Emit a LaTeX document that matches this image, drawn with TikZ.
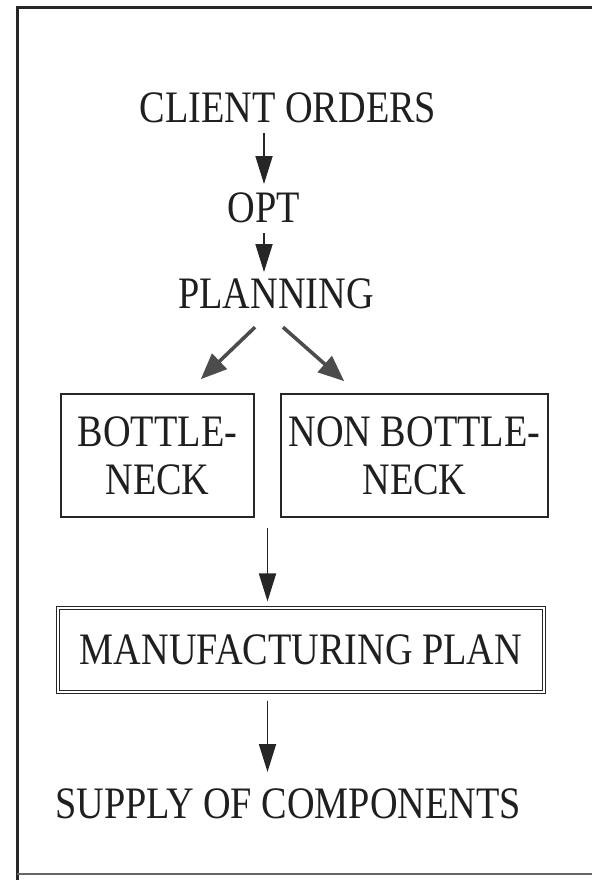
\documentclass[tikz,border=0pt]{standalone}
\usepackage{fontspec}
\setmainfont{Liberation Serif}[FakeStretch=0.85]
\usetikzlibrary{arrows.meta,calc}

\tikzset{
  lbl/.style={inner sep=0pt, text depth=0pt, font=\fontsize{45pt}{48pt}\selectfont, text=black!88},
  boxed/.style={lbl, draw=black!85, line width=1.6pt, align=center},
  dblbox/.style={lbl, draw=black!85, line width=1.1pt, double, double distance=2.4pt},
  flow/.style={draw=black!85, line width=1.8pt, -{Triangle[width=17pt,length=28pt]}, fill=black!75},
  slant/.style={draw=black!70, line width=3.6pt, -{Triangle[width=21pt,length=26pt]}, fill=black!75},
  frame/.style={draw=black!85, line width=3pt}
}

\begin{document}
\begin{tikzpicture}[x=1pt,y=-1pt]
  \useasboundingbox (0,0) rectangle (592,880);

  % outer frame (open on the right)
  \draw[frame] (592,8) -- (17,8) -- (17,880);
  \draw[draw=black!60, line width=1.4pt] (17,874) -- (592,874);

  % flow labels
  \node[lbl, anchor=base] (orders) at (288,123) {CLIENT ORDERS};
  \node[lbl, anchor=base] (opt) at (264,222) {OPT};
  \node[lbl, anchor=base] (plan) at (276,308) {PLANNING};

  % planning split
  \node[boxed, minimum width=193pt, minimum height=123pt] (bn) at (157.5,455.5) {BOTTLE-\\NECK};
  \node[boxed, minimum width=267pt, minimum height=123pt] (nbn) at (414.5,455.5) {NON BOTTLE-\\NECK};

  % manufacturing plan
  \node[dblbox, minimum width=486pt, minimum height=84pt] (mfg) at (301,650) {MANUFACTURING PLAN};

  % supply
  \node[lbl, anchor=base west] (supply) at (55,818) {SUPPLY OF COMPONENTS};

  % connectors
  \draw[flow, shorten <=10pt, shorten >=8pt] (orders.south -| opt.north) -- (opt.north);
  \draw[flow, shorten <=11pt, shorten >=6pt] (opt.south) -- (opt.south |- plan.north);

  \coordinate (lsrc) at ($(plan.south)+(-21,19)$);
  \coordinate (rsrc) at ($(plan.south)+(7,19)$);
  \coordinate (ldst) at ($(bn.north east)+(-54,-14)$);
  \coordinate (rdst) at ($(nbn.north west)+(64,-12)$);
  \draw[slant] (lsrc) -- (ldst);
  \draw[slant] (rsrc) -- (rdst);

  \coordinate (gap) at ($(bn.south east)!0.5!(nbn.south west)$);
  \draw[flow, shorten <=10pt, shorten >=6pt] (gap) -- (gap |- mfg.north);
  \draw[flow, shorten <=8pt, shorten >=16pt] (gap |- mfg.south) -- (gap |- supply.north);
\end{tikzpicture}
\end{document}
